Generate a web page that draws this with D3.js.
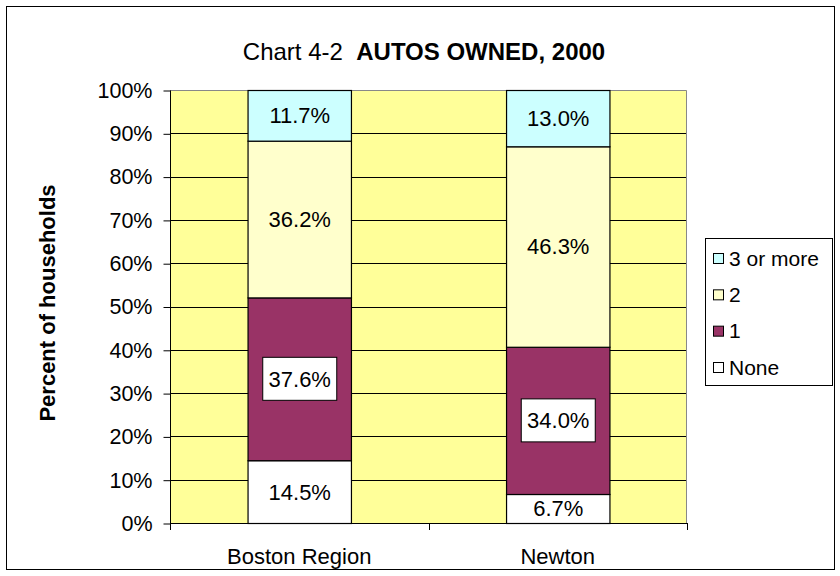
<!DOCTYPE html>
<html><head><meta charset="utf-8">
<script src="https://cdn.jsdelivr.net/npm/d3@7"></script>
<style>body{margin:0;background:#fff}svg{display:block}text{font-family:"Liberation Sans",Arial,sans-serif;fill:#000}</style>
</head><body><div id="chart"></div>
<script>
const categories = ["Boston Region", "Newton"];
const seriesNames = ["None", "1", "2", "3 or more"];
const noneVals = [14.5, 6.7];
const oneVals = [37.6, 34.0];
const twoVals = [36.2, 46.3];
const threeVals = [11.7, 13.0];
const yTicks = [0, 10, 20, 30, 40, 50, 60, 70, 80, 90, 100];
const colors = {"None": "#FFFFFF", "1": "#993366", "2": "#FFFFCC", "3 or more": "#CCFFFF"};

const table = categories.map((c, i) => ({cat: c, "None": noneVals[i], "1": oneVals[i], "2": twoVals[i], "3 or more": threeVals[i]}));

const W = 840, H = 576;
const plot = {l: 170, r: 687, t: 90, b: 523};
const svg = d3.select("#chart").append("svg").attr("width", W).attr("height", H);

svg.append("rect").attr("x", 6.5).attr("y", 6.5).attr("width", 828).attr("height", 563)
  .attr("fill", "#fff").attr("stroke", "#000").attr("stroke-width", 1);

const x = d3.scaleBand().domain(categories).range([plot.l, plot.r]).paddingInner(0.6).paddingOuter(0.3);
const y = d3.scaleLinear().domain([0, 100]).range([plot.b, plot.t]);

svg.append("rect").attr("x", plot.l).attr("y", plot.t).attr("width", plot.r - plot.l).attr("height", plot.b - plot.t)
  .attr("fill", "#FFFF99");

// gridlines
svg.append("g").selectAll("line").data(yTicks.filter(t => t > 0 && t < 100)).join("line")
  .attr("x1", plot.l).attr("x2", plot.r).attr("y1", d => Math.round(y(d)) + 0.5).attr("y2", d => Math.round(y(d)) + 0.5)
  .attr("stroke", "#000").attr("stroke-width", 1);

// plot border (gray)
svg.append("path").attr("d", `M${plot.l},${plot.t + 0.5}H${plot.r - 0.5}V${plot.b}`)
  .attr("fill", "none").attr("stroke", "#888").attr("stroke-width", 1);

const stack = d3.stack().keys(seriesNames)(table);
const bars = svg.append("g");
stack.forEach(layer => {
  bars.selectAll(null).data(layer).join("rect")
    .attr("x", d => x(d.data.cat) + 0.5)
    .attr("y", d => y(d[1]) + 0.5)
    .attr("width", x.bandwidth())
    .attr("height", d => y(d[0]) - y(d[1]))
    .attr("fill", colors[layer.key]).attr("stroke", "#000").attr("stroke-width", 1.2);
});

// labels
const fs = 22;
stack.forEach(layer => {
  layer.forEach(d => {
    const cx = x(d.data.cat) + x.bandwidth() / 2 + 0.5;
    const cy = (y(d[0]) + y(d[1])) / 2;
    const txt = d.data[layer.key].toFixed(1) + "%";
    if (layer.key === "1") {
      svg.append("rect").attr("x", cx - 37).attr("y", cy - 21.5).attr("width", 74).attr("height", 43)
        .attr("fill", "#fff").attr("stroke", "#000").attr("stroke-width", 1);
    }
    svg.append("text").attr("x", cx).attr("y", cy).attr("dy", "0.36em").attr("text-anchor", "middle")
      .attr("font-size", fs).text(txt);
  });
});

// y axis
const yAxis = d3.axisLeft(y).tickValues(yTicks).tickFormat(d => d + "%").tickSize(7).tickPadding(11);
const gy = svg.append("g").attr("transform", `translate(${plot.l + 0.5},0.5)`).call(yAxis);
gy.select(".domain").attr("stroke", "#000").attr("d", `M0,${plot.t}V${plot.b}`);
gy.selectAll(".tick line").attr("stroke", "#000");
gy.selectAll(".tick text").attr("font-size", 21.5).attr("font-family", '"Liberation Sans",Arial,sans-serif').attr("fill", "#000");

// x axis
svg.append("line").attr("x1", plot.l).attr("x2", plot.r).attr("y1", plot.b + 0.5).attr("y2", plot.b + 0.5).attr("stroke", "#000");
const step = x.step();
const bounds = [plot.l, ...categories.slice(1).map(c => x(c) - step * x.paddingInner() / 2), plot.r];
svg.append("g").selectAll("line").data(bounds).join("line")
  .attr("x1", d => Math.round(d) + 0.5).attr("x2", d => Math.round(d) + 0.5).attr("y1", plot.b).attr("y2", plot.b + 7).attr("stroke", "#000");
svg.append("g").selectAll("text").data(categories).join("text")
  .attr("x", d => x(d) + x.bandwidth() / 2).attr("y", 564).attr("text-anchor", "middle").attr("font-size", 22).text(d => d);

// y title
svg.append("text").attr("transform", `translate(55,303) rotate(-90)`).attr("text-anchor", "middle")
  .attr("font-size", 22).attr("font-weight", "bold").text("Percent of households");

// title
const title = svg.append("text").attr("x", 424).attr("y", 60).attr("text-anchor", "middle").attr("font-size", 24);
title.append("tspan").text("Chart 4-2\u00a0\u00a0");
title.append("tspan").attr("font-weight", "bold").text("AUTOS OWNED, 2000");

// legend
const lg = svg.append("g");
lg.append("rect").attr("x", 705.5).attr("y", 238.5).attr("width", 127).attr("height", 147)
  .attr("fill", "#fff").attr("stroke", "#000").attr("stroke-width", 1);
const legendOrder = seriesNames.slice().reverse();
const ly = d3.scalePoint().domain(legendOrder).range([258, 367]);
legendOrder.forEach(k => {
  lg.append("rect").attr("x", 713.5).attr("y", ly(k) - 4.5).attr("width", 10).attr("height", 10)
    .attr("fill", colors[k]).attr("stroke", "#000").attr("stroke-width", 1);
  lg.append("text").attr("x", 729).attr("y", ly(k)).attr("dy", "0.36em").attr("font-size", 21).text(k);
});
</script></body></html>
